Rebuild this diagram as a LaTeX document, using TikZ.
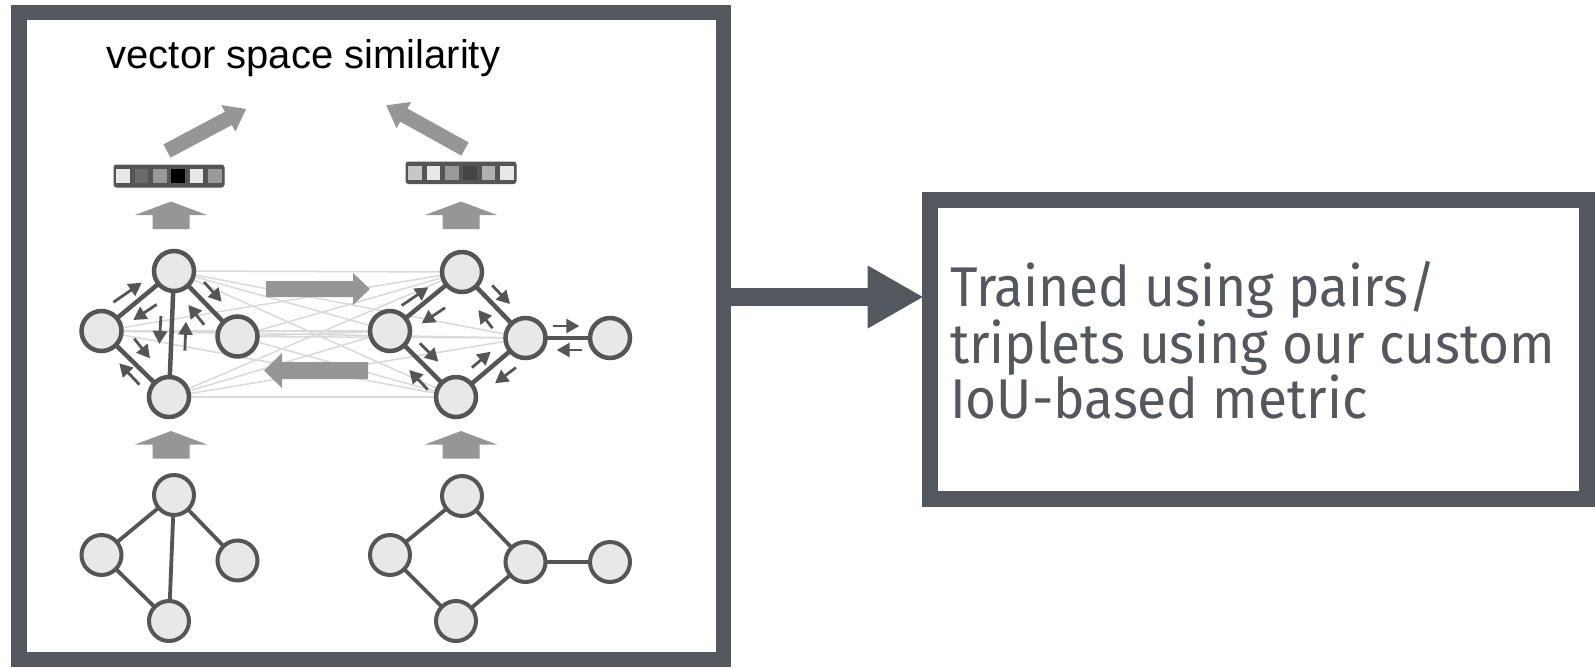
\documentclass[tikz,border=0pt]{standalone}
\usepackage{fontspec}
\newfontfamily\arialf{Liberation Sans}
\newfontfamily\firaf{Fira Sans}
\usetikzlibrary{arrows.meta}
\definecolor{borderc}{HTML}{53575E}
\definecolor{nodefill}{HTML}{E8E8E8}
\definecolor{nodeline}{HTML}{555555}
\definecolor{bigarr}{HTML}{969696}
\definecolor{faint}{HTML}{DADADA}
\pgfdeclarelayer{bg}
\pgfsetlayers{bg,main}
\begin{document}
\begin{tikzpicture}[x=1pt,y=-1pt,
  gnode/.style={circle, draw=nodeline, fill=nodefill, line width=4.5pt, minimum size=40pt, inner sep=0pt, outer sep=0pt},
  lgnode/.style={gnode, line width=4pt},
  gedge/.style={draw=nodeline, line width=4.5pt},
  lgedge/.style={draw=nodeline, line width=3.8pt},
  faintline/.style={draw=faint, line width=1.5pt},
  smallarr/.style={draw=nodeline, line width=2.8pt, shorten <=-4pt, -{Triangle[length=13pt,width=14pt]}},
  bigarrow/.style={fill=bigarr},
  frame/.style={draw=borderc, inner sep=0pt, outer sep=0pt},
  cell/.style={minimum size=13.5pt, inner sep=0pt, outer sep=0pt},
  bodytext/.style={anchor=base west, inner sep=0pt, text=borderc, font=\firaf\fontsize{56}{56}\selectfont, xscale=0.95, transform shape},
]
\useasboundingbox (0,0) rectangle (1595,667);
\begin{pgfonlayer}{bg}
\fill[white] (0,0) rectangle (1595,667);
\end{pgfonlayer}

% frames
\node[frame, line width=15.5pt, minimum width=704.5pt, minimum height=646.75pt] (leftbox) at (371,336.1) {};
\node[frame, line width=16pt, minimum width=656.75pt, minimum height=298.3pt] (rightbox) at (1258.6,349.55) {};

% connector
\coordinate (cy) at (800,297);
\draw[draw=borderc, line width=18pt, -{Triangle[length=55pt,width=63pt,line width=0pt]}, shorten >=7.5pt]
  (leftbox.east |- cy) -- (rightbox.west |- cy);

% texts
\node[anchor=base west, inner sep=0pt, font=\arialf\fontsize{40}{48}\selectfont] (title) at (106.5,68.3) {vector space similarity};
\node[bodytext] (t1) at (950,306.7) {Trained using pairs/};
\node[bodytext] (t2) at (950,363) {triplets using our custom};
\node[bodytext] (t3) at (950,418.5) {IoU-based metric};

% upper graphs
\node[gnode] (a1) at (174,271) {};
\node[gnode] (a2) at (101.5,331) {};
\node[gnode] (a3) at (237.5,336.5) {};
\node[gnode] (a4) at (169,397) {};
\node[gnode] (b1) at (462,272) {};
\node[gnode] (b2) at (390,331) {};
\node[gnode] (b3) at (525.5,338) {};
\node[gnode] (b4) at (610,338) {};
\node[gnode] (b5) at (456,397) {};

% lower graphs
\node[lgnode] (c1) at (174,495) {};
\node[lgnode] (c2) at (101.5,555) {};
\node[lgnode] (c3) at (237.5,560.5) {};
\node[lgnode] (c4) at (169,621) {};
\node[lgnode] (d1) at (462,496) {};
\node[lgnode] (d2) at (390,555) {};
\node[lgnode] (d3) at (525.5,562) {};
\node[lgnode] (d4) at (610,562) {};
\node[lgnode] (d5) at (456,621) {};

% faint cross connections
\begin{pgfonlayer}{bg}
\foreach \p in {a1,a2,a3,a4}
  \foreach \q in {b1,b2,b3,b5}
    \draw[faintline] (\p) -- (\q);
\end{pgfonlayer}

% big grey arrows between the graphs
\fill[bigarrow] (266,281) -- (353,281) -- (353,273) -- (370,289) -- (353,305) -- (353,297) -- (266,297) -- cycle;
\fill[bigarrow] (368,362) -- (282,362) -- (282,353) -- (264,370.5) -- (282,388) -- (282,379) -- (368,379) -- cycle;

% edges
\draw[gedge] (a1) -- (a2);
\draw[gedge] (a1) -- (a3);
\draw[gedge] (a1) -- (a4);
\draw[gedge] (a2) -- (a4);
\draw[gedge] (b1) -- (b2);
\draw[gedge] (b1) -- (b3);
\draw[gedge] (b2) -- (b5);
\draw[gedge] (b5) -- (b3);
\draw[gedge] (b3) -- (b4);
\draw[lgedge] (c1) -- (c2);
\draw[lgedge] (c1) -- (c3);
\draw[lgedge] (c1) -- (c4);
\draw[lgedge] (c2) -- (c4);
\draw[lgedge] (d1) -- (d2);
\draw[lgedge] (d1) -- (d3);
\draw[lgedge] (d2) -- (d5);
\draw[lgedge] (d5) -- (d3);
\draw[lgedge] (d3) -- (d4);

% message passing arrows (left graph)
\draw[smallarr] (116.7,300) -- (141.7,282.7);
\draw[smallarr] (153.3,306.7) -- (133.3,320);
\draw[smallarr] (160.7,320) -- (159.3,344);
\draw[smallarr] (185,346.7) -- (186,321.7);
\draw[smallarr] (201.7,321.7) -- (188.3,305);
\draw[smallarr] (206.7,285) -- (221.7,301.7);
\draw[smallarr] (136.7,341.7) -- (150,358.3);
\draw[smallarr] (136.7,381.7) -- (119.3,363.3);
% message passing arrows (right graph)
\draw[smallarr] (405,303.3) -- (428.3,287.3);
\draw[smallarr] (441.7,310) -- (421.7,323.3);
\draw[smallarr] (495,288.3) -- (510,304);
\draw[smallarr] (490,325) -- (478.3,310);
\draw[smallarr] (422.7,346) -- (438.3,361.7);
\draw[smallarr] (425,386.7) -- (409.3,370);
\draw[smallarr] (475,365) -- (490.7,351.7);
\draw[smallarr] (512.7,370) -- (495,383.3);
\draw[smallarr] (556.7,326) -- (579.3,326);
\draw[smallarr] (578.3,350) -- (556.7,350);

% up arrows
\foreach \ux/\uy in {171/201.5, 461/201.5, 171/431, 461/431}
  \fill[bigarrow, shift={(\ux,\uy)}] (-18.5,27.5) -- (-18.5,13.5) -- (-36,13.5) -- (0,0) -- (36,13.5) -- (18.5,13.5) -- (18.5,27.5) -- cycle;

% embedding vectors
\node[draw=nodeline, fill=nodeline, line width=1pt, rounded corners=2.5pt, minimum width=110pt, minimum height=22pt, inner sep=0pt] (vl) at (169,176) {};
\foreach \g [count=\i from 0] in {9,58,40,100,9,40}
  \node[cell, fill=black!\g] (vl\i) at (123.2+18.33*\i,176) {};
\node[draw=nodeline, fill=nodeline, line width=1pt, rounded corners=2.5pt, minimum width=110pt, minimum height=21.5pt, inner sep=0pt] (vr) at (461,172.75) {};
\foreach \g [count=\i from 0] in {22,9,40,73,31,9}
  \node[cell, fill=black!\g] (vr\i) at (415.2+18.33*\i,172.75) {};

% diagonal arrows to similarity
\fill[bigarrow, shift={(167,151)}, rotate=28] (0,-7.5) -- (69.5,-7.5) -- (69.5,-15) -- (89.5,0) -- (69.5,15) -- (69.5,7.5) -- (0,7.5) -- cycle;
\fill[bigarrow, shift={(465,149)}, rotate=151] (0,-7.5) -- (70,-7.5) -- (70,-15) -- (90,0) -- (70,15) -- (70,7.5) -- (0,7.5) -- cycle;
\end{tikzpicture}
\end{document}
